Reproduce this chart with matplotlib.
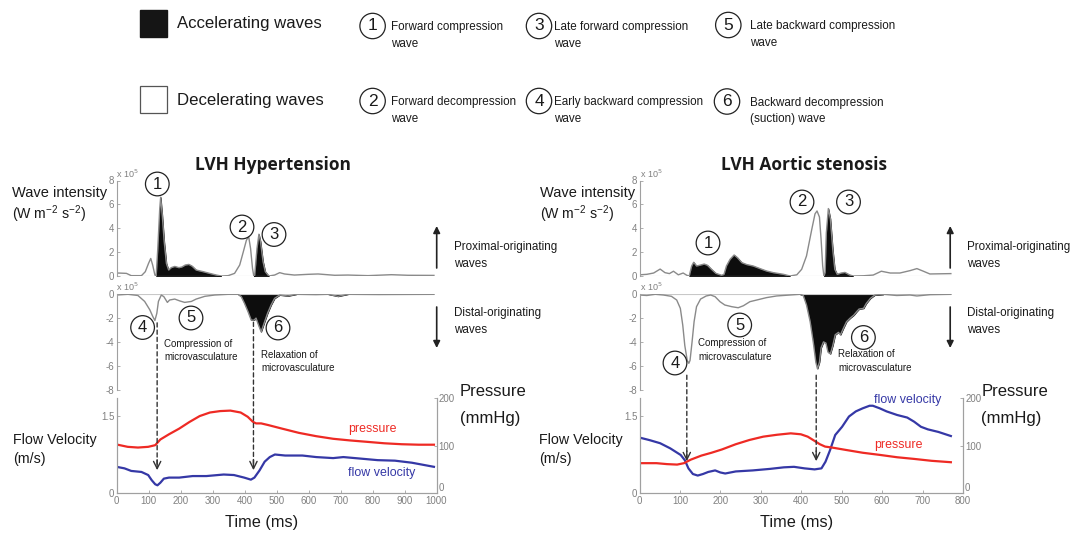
import numpy as np
import matplotlib.pyplot as plt
from matplotlib.patches import ConnectionPatch, Rectangle

"""
Wave intensity in LVH: hypertension vs aortic stenosis
upper: proximal (forward) waves, middle: distal (backward) waves,
bottom: flow velocity and pressure
"""

W, H = 1070, 537

# ---------------- data ----------------
# LVH hypertension, wave intensity x 10^5
hyp_up_t = [0, 5, 31, 46, 78, 90, 100, 107, 113, 120, 124, 129, 135, 138, 143, 149, 156, 163,
            171, 182, 195, 204, 215, 226, 236, 249, 271, 291, 312, 327, 349, 369, 385, 396, 406,
            413, 419, 425, 429, 432, 439, 445, 450, 458, 465, 476, 494, 510, 525, 556, 598, 630,
            682, 723, 786, 859, 911, 992]
hyp_up_wi = [0.18, 0.25, 0.22, 0.03, 0.03, 0.36, 1.05, 1.47, 0.92, 0.08, 0, 2.3, 5.6, 6.6, 5.1,
             2.9, 1.05, 0.5, 0.7, 0.8, 0.7, 0.75, 0.92, 0.97, 0.83, 0.5, 0.36, 0.22, 0.08, 0,
             0.03, 0.22, 0.92, 2.0, 3.0, 3.3, 2.3, 0.64, 0, 0.08, 2.3, 3.5, 2.9, 1.2, 0.36, 0,
             0.08, 0.28, 0.17, 0.08, 0.14, 0.17, 0.06, 0.08, 0.03, 0.11, 0.06, 0.05]
hyp_up_black = [(124, 327), (429, 476)]

hyp_dn_t = [0, 36, 67, 88, 104, 114, 120, 126, 131, 140, 148, 159, 166, 182, 198, 213, 234, 249,
            276, 307, 349, 380, 390, 400, 411, 421, 430, 436, 444, 452, 461, 472, 483, 494, 510,
            536, 562, 623, 662, 692, 723, 818, 992]
hyp_dn_wi = [-0.06, 0, -0.1, -0.6, -1.3, -1.9, -2.2, -1.6, -0.6, -0.06, -0.2, -0.68, -0.48,
             -0.4, -0.56, -0.68, -0.6, -0.4, -0.17, -0.06, 0, 0, -0.2, -0.76, -1.46, -2.17,
             -2.17, -2.0, -2.6, -3.15, -2.45, -1.6, -0.9, -0.34, -0.06, -0.14, 0, -0.03, 0,
             -0.17, 0, -0.02, 0]
hyp_dn_black = [(380, 562), (662, 723)]

hyp_p_t = [0, 35, 67, 99, 121, 137, 164, 196, 228, 260, 292, 324, 356, 388, 410, 426, 436, 452,
           474, 517, 570, 624, 677, 730, 784, 837, 891, 944, 992]
hyp_pressure = [102.5, 97.5, 96, 97.5, 101, 113, 124, 136, 150, 162.5, 170, 173, 174, 170, 161,
                150.5, 147, 147, 143.5, 136, 127, 120, 114.5, 111, 108, 105, 103, 102, 102]
hyp_v_t = [0, 25, 46, 78, 99, 110, 121, 128, 137, 148, 164, 196, 238, 281, 335, 367, 399, 420,
           431, 447, 463, 479, 495, 527, 581, 624, 677, 709, 763, 816, 870, 923, 992]
hyp_velocity = [0.51, 0.48, 0.43, 0.41, 0.35, 0.25, 0.17, 0.15, 0.2, 0.28, 0.3, 0.3, 0.33, 0.33,
                0.36, 0.35, 0.3, 0.26, 0.3, 0.44, 0.61, 0.7, 0.75, 0.73, 0.73, 0.7, 0.68, 0.7,
                0.67, 0.64, 0.63, 0.59, 0.51]

# LVH aortic stenosis, wave intensity x 10^5
as_up_t = [0, 18, 35, 51, 63, 74, 84, 96, 108, 117, 123, 129, 134, 141, 149, 160, 168, 178, 189,
           203, 209, 215, 224, 234, 242, 253, 265, 281, 298, 314, 331, 356, 372, 389, 401, 413,
           426, 434, 439, 445, 449, 453, 456, 459, 462, 467, 472, 478, 483, 489, 499, 508, 519,
           528, 554, 578, 598, 620, 644, 669, 686, 702, 718, 770]
as_up_wi = [0.1, 0.14, 0.25, 0.58, 0.28, 0.2, 0.4, 0.1, 0.25, 0.06, 0, 0.84, 1.15, 0.84, 0.9,
            1.0, 0.9, 0.56, 0.22, 0.06, 0.14, 0.84, 1.4, 1.76, 1.54, 1.12, 0.96, 0.84, 0.62,
            0.42, 0.28, 0.14, 0, 0.1, 0.56, 1.68, 3.9, 5.2, 5.45, 4.94, 3.1, 0.84, 0, 0.28, 3.6,
            5.65, 4.8, 2.2, 0.56, 0.14, 0.25, 0.3, 0.1, 0, 0.02, 0.08, 0.4, 0.25, 0.25, 0.45,
            0.62, 0.4, 0.17, 0.2]
as_up_black = [(123, 372), (456, 528)]

as_dn_t = [0, 18, 39, 59, 79, 92, 101, 107, 112, 118, 122, 125, 130, 135, 141, 151, 165, 176,
           187, 199, 211, 228, 244, 257, 273, 290, 314, 339, 372, 397, 405, 413, 422, 430, 436,
           440, 445, 449, 455, 461, 466, 472, 478, 484, 492, 497, 504, 512, 521, 530, 537, 543,
           554, 561, 571, 582, 603, 636, 669, 686, 719, 770]
as_dn_wi = [-0.06, -0.1, 0, -0.06, -0.17, -0.48, -1.18, -2.6, -4.3, -5.55, -5.8, -5.55, -4.0,
            -2.3, -1.04, -0.4, -0.14, -0.06, -0.2, -0.62, -0.9, -1.04, -1.13, -0.96, -0.62,
            -0.48, -0.28, -0.14, -0.06, 0, -0.1, -0.9, -2.3, -4.1, -5.7, -6.25, -5.7, -4.5,
            -4.0, -4.1, -4.85, -5.0, -4.3, -3.4, -3.2, -3.4, -2.87, -2.3, -2.0, -1.75, -1.46,
            -1.24, -1.18, -0.76, -0.34, -0.06, 0, -0.1, -0.06, -0.14, -0.03, 0]
as_dn_black = [(397, 603)]

as_p_t = [0, 42, 68, 93, 110, 127, 153, 178, 204, 238, 272, 306, 340, 374, 399, 416, 433, 446,
          459, 476, 510, 552, 594, 637, 679, 722, 770]
as_pressure = [63, 63, 61, 60, 63, 70.5, 79, 85, 92, 103, 112, 119, 123, 126, 124, 119, 110, 103,
               98, 96, 91, 85, 80.5, 75.5, 72, 68, 65]
as_v_t = [0, 25, 51, 76, 102, 112, 121, 132, 144, 157, 170, 187, 200, 212, 238, 280, 323, 357,
          382, 408, 433, 450, 460, 471, 484, 501, 518, 535, 552, 569, 577, 594, 611, 637, 662,
          679, 696, 713, 739, 770]
as_velocity = [1.08, 1.03, 0.97, 0.87, 0.74, 0.64, 0.48, 0.37, 0.34, 0.37, 0.41, 0.44, 0.4, 0.38,
               0.42, 0.44, 0.47, 0.5, 0.51, 0.48, 0.46, 0.48, 0.61, 0.83, 1.13, 1.29, 1.49, 1.59,
               1.65, 1.7, 1.7, 1.65, 1.59, 1.52, 1.47, 1.39, 1.29, 1.24, 1.19, 1.11]

wave_names = ['Forward compression\nwave', 'Forward decompression\nwave',
              'Late forward compression\nwave', 'Early backward compression\nwave',
              'Late backward compression\nwave', 'Backward decompression\n(suction) wave']

# ---------------- style ----------------
plt.rcParams['font.family'] = ['Liberation Sans', 'DejaVu Sans']
plt.rcParams['axes.unicode_minus'] = False
GREY_TXT = '#808080'
SPINE = '#a0a0a0'
WAVE_LINE = '#8a8a8a'
TXT = '#1a1a1a'
RED = '#ee2a24'
BLUE = '#3538a6'


def fx(x):
    return x / W


def fy(y):
    return 1 - y / H


def ax_px(x0, y_top, x1, y_bot):
    return [fx(x0), fy(y_bot), (x1 - x0) / W, (y_bot - y_top) / H]


def style_axis(ax):
    for s in ax.spines.values():
        s.set_color(SPINE)
        s.set_linewidth(0.8)
    ax.tick_params(direction='in', length=2.5, width=0.6, colors=SPINE,
                   labelcolor=GREY_TXT, labelsize=7, pad=1.5)


def wave_panel(ax, t, wi, black, xmax, upper):
    t = np.array(t)
    wi = np.array(wi)
    for a, b in black:
        m = (t >= a) & (t <= b)
        ax.fill_between(t[m], 0, wi[m], color='#0d0d0d', lw=0.6)
    ax.hlines(0, t[0], t[-1], color='#c8c8c8', lw=0.8)
    ax.plot(t, wi, color=WAVE_LINE, lw=1.0)
    ax.set_xlim(0, xmax)
    for s in ['top', 'right', 'bottom']:
        ax.spines[s].set_visible(False)
    style_axis(ax)
    ax.set_xticks([])
    if upper:
        ax.set_ylim(0, 8)
        ax.set_yticks([0, 2, 4, 6, 8])
    else:
        ax.set_ylim(-8, 0)
        ax.set_yticks([0, -2, -4, -6, -8])
    ax.text(0.0, 1.01, r'x 10$^5$', transform=ax.transAxes, fontsize=6.5,
            color=GREY_TXT, va='bottom', ha='left')


def flow_panel(ax, p_t, pres, v_t, vel, xmax):
    ax.plot(v_t, vel, color=BLUE, lw=1.6)
    ax.set_xlim(0, xmax)
    ax.set_ylim(0, 1.845)
    ax.set_yticks([0, 1.5])
    ax.set_yticklabels(['0', '1.5'])
    ax.set_xticks(np.arange(0, xmax + 1, 100))
    ax.spines['top'].set_visible(False)
    style_axis(ax)
    ax.tick_params(axis='x', pad=2.5)
    ax2 = ax.twinx()
    ax2.plot(p_t, pres, color=RED, lw=1.6)
    ax2.set_ylim(0, 200)
    ax2.set_yticks([0, 100, 200])
    ax2.spines['top'].set_visible(False)
    style_axis(ax2)
    ax2.get_yticklabels()[0].set_va('bottom')
    return ax2


def circled(x, y, s, size=11, pad=0.22):
    fig.text(fx(x), fy(y), s, fontsize=size, ha='center', va='center', color=TXT,
             bbox=dict(boxstyle='circle,pad=%.2f' % pad, fc='white', ec='#222', lw=0.9))


fig = plt.figure(figsize=(W / 100, H / 100), dpi=100)

panels = [
    dict(x0=116.5, x1=436.5, xmax=1000, up=(hyp_up_t, hyp_up_wi, hyp_up_black),
         dn=(hyp_dn_t, hyp_dn_wi, hyp_dn_black), p=(hyp_p_t, hyp_pressure),
         v=(hyp_v_t, hyp_velocity)),
    dict(x0=639.5, x1=963.0, xmax=800, up=(as_up_t, as_up_wi, as_up_black),
         dn=(as_dn_t, as_dn_wi, as_dn_black), p=(as_p_t, as_pressure),
         v=(as_v_t, as_velocity)),
]

axes = []
for pnl in panels:
    a_up = fig.add_axes(ax_px(pnl['x0'], 180.5, pnl['x1'], 276))
    a_dn = fig.add_axes(ax_px(pnl['x0'], 294.3, pnl['x1'], 389.5))
    a_fl = fig.add_axes(ax_px(pnl['x0'], 398.3, pnl['x1'], 493))
    wave_panel(a_up, *pnl['up'], pnl['xmax'], True)
    wave_panel(a_dn, *pnl['dn'], pnl['xmax'], False)
    a_pr = flow_panel(a_fl, *pnl['p'], *pnl['v'], pnl['xmax'])
    axes.append((a_up, a_dn, a_fl, a_pr))

# ---------------- dashed arrows ----------------
arrow_marks = [(0, 127, -2.4, 0.445), (0, 428, -2.35, 0.445),
               (1, 117, -6.8, 0.62), (1, 437, -6.8, 0.62)]
for i, t, y0, y1 in arrow_marks:
    a_dn, a_fl = axes[i][1], axes[i][2]
    con = ConnectionPatch(xyA=(t, y0), coordsA=a_dn.transData, xyB=(t, y1 + 0.05),
                          coordsB=a_fl.transData, arrowstyle='-', color='#333',
                          lw=1.0, linestyle=(0, (3, 2.2)))
    fig.add_artist(con)
    a_fl.annotate('', xy=(t, y1), xytext=(t, y1 + 0.2),
                  arrowprops=dict(arrowstyle='->', color='#333', lw=1.0,
                                  mutation_scale=13, shrinkA=0, shrinkB=0))

# ---------------- text ----------------
for xc, title in [(273, 'LVH Hypertension'), (804, 'LVH Aortic stenosis')]:
    fig.text(fx(xc), fy(165), title, fontsize=12.5, fontweight='bold', family='Open Sans',
             ha='center', va='center', color=TXT)

for xl, xv in [(12, 13), (540, 539)]:
    fig.text(fx(xl), fy(193), 'Wave intensity', fontsize=10.5, ha='left', va='center', color=TXT)
    fig.text(fx(xl), fy(214), r'(W m$^{\mathregular{-2}}$ s$^{\mathregular{-2}}$)', fontsize=10.2,
             ha='left', va='center', color=TXT)
    fig.text(fx(xv), fy(440), 'Flow Velocity', fontsize=10.3, ha='left', va='center', color=TXT)
    fig.text(fx(xv), fy(459), '(m/s)', fontsize=10.3, ha='left', va='center', color=TXT)

for xa, xt in [(436.7, 454), (950.2, 966.7)]:
    fig.text(fx(xt), fy(247), 'Proximal-originating', fontsize=8.35, ha='left', va='center', color=TXT)
    fig.text(fx(xt), fy(264), 'waves', fontsize=8.35, ha='left', va='center', color=TXT)
    fig.text(fx(xt), fy(313), 'Distal-originating', fontsize=8.35, ha='left', va='center', color=TXT)
    fig.text(fx(xt), fy(330), 'waves', fontsize=8.35, ha='left', va='center', color=TXT)
    fig.add_artist(ConnectionPatch(xyA=(fx(xa), fy(268)), coordsA=fig.transFigure,
                                   xyB=(fx(xa), fy(226)), coordsB=fig.transFigure,
                                   arrowstyle='-|>', color='#222', lw=1.2, mutation_scale=10))
    fig.add_artist(ConnectionPatch(xyA=(fx(xa), fy(307)), coordsA=fig.transFigure,
                                   xyB=(fx(xa), fy(348)), coordsB=fig.transFigure,
                                   arrowstyle='-|>', color='#222', lw=1.2, mutation_scale=10))

for xp in [459.8, 981.2]:
    fig.text(fx(xp), fy(392), 'Pressure', fontsize=12, ha='left', va='center', color=TXT)
    fig.text(fx(xp), fy(418), '(mmHg)', fontsize=12, ha='left', va='center', color=TXT)

for xc in [262, 797]:
    fig.text(fx(xc), fy(522), 'Time (ms)', fontsize=11.7, ha='center', va='center', color=TXT)

# curve labels
fig.text(fx(348), fy(429), 'pressure', fontsize=8.9, color=RED, ha='left', va='center')
fig.text(fx(348), fy(473), 'flow velocity', fontsize=8.9, color=BLUE, ha='left', va='center')
fig.text(fx(874), fy(400), 'flow velocity', fontsize=8.9, color=BLUE, ha='left', va='center')
fig.text(fx(874), fy(445), 'pressure', fontsize=8.9, color=RED, ha='left', va='center')

# microvasculature notes
for x, y, s in [(164, 350.5, 'Compression of\nmicrovasculature'),
                (261, 361.5, 'Relaxation of\nmicrovasculature'),
                (698, 350, 'Compression of\nmicrovasculature'),
                (838, 361, 'Relaxation of\nmicrovasculature')]:
    fig.text(fx(x), fy(y), s, fontsize=7, ha='left', va='center', color=TXT, linespacing=1.45)

# circled wave numbers in the panels
for x, y, s in [(157.3, 184, '1'), (242, 227, '2'), (274, 234.5, '3'), (142.6, 327.5, '4'),
                (191, 318, '5'), (278, 328, '6'), (708, 243, '1'), (802, 202, '2'),
                (848.5, 202, '3'), (675, 363, '4'), (739.7, 325, '5'), (863.4, 337.5, '6')]:
    circled(x, y, s, size=12, pad=0.26)

# ---------------- legend ----------------
fig.add_artist(Rectangle((fx(140), fy(36.7)), 26.7 / W, 26.7 / H, transform=fig.transFigure,
                         fc='#151515', ec='#151515'))
fig.add_artist(Rectangle((fx(140), fy(112.7)), 26.7 / W, 26.7 / H, transform=fig.transFigure,
                         fc='white', ec='#555', lw=0.9))
fig.text(fx(177.4), fy(23.3), 'Accelerating waves', fontsize=12.1, ha='left', va='center', color=TXT)
fig.text(fx(177.4), fy(100), 'Decelerating waves', fontsize=12.1, ha='left', va='center', color=TXT)

leg_pos = [(372.6, 26, 391), (372.6, 101, 391), (539, 26, 554.4), (539, 101, 554.4),
           (728.3, 25, 750), (727, 101.5, 750)]
for k, (cx, cy, tx) in enumerate(leg_pos):
    circled(cx, cy, str(k + 1), size=12.5, pad=0.3)
    fig.text(fx(tx), fy(cy + 9.5), wave_names[k], fontsize=8.4, ha='left', va='center',
             color=TXT, linespacing=1.55)

fig.savefig('out.png', dpi=100)
